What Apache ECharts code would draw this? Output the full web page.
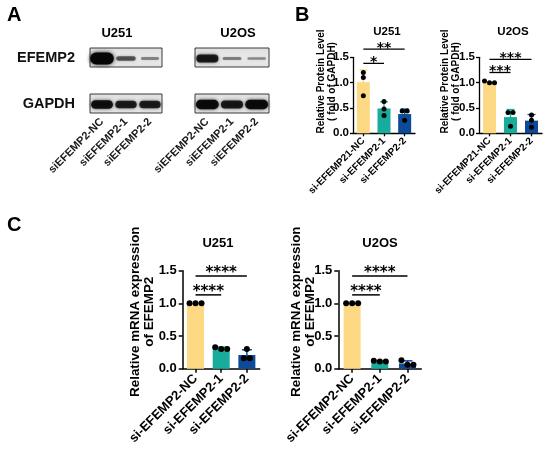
<!DOCTYPE html>
<html>
<head>
<meta charset="utf-8">
<script src="https://cdn.jsdelivr.net/npm/echarts@6/dist/echarts.min.js"></script>
<style>
html, body { margin: 0; padding: 0; background: #fff; }
#main { width: 550px; height: 450px; }
</style>
</head>
<body>
<div id="main"></div>
<script>
// ---- data ----
var laneLabels = ['siEFEMP2-NC', 'siEFEMP2-1', 'siEFEMP2-2'];
// relative band strength per lane (0..1)
var bandU251EFEMP2 = [1.0, 0.45, 0.25];
var bandU251GAPDH = [0.78, 0.7, 0.7];
var bandU2OSEFEMP2 = [0.72, 0.28, 0.24];
var bandU2OSGAPDH = [0.82, 0.72, 0.82];

var groupsB = ['si-EFEMP21-NC', 'si-EFEMP2-1', 'si-EFEMP2-2'];
var groupsC = ['si-EFEMP2-NC', 'si-EFEMP2-1', 'si-EFEMP2-2'];
var yTicks = [0, 0.5, 1.0, 1.5];

var protU251Mean = [1.01, 0.49, 0.38];
var protU251SD = [0.24, 0.13, 0.10];
var protU251Points = [[1.20, 1.10, 0.74], [0.63, 0.48, 0.35], [0.44, 0.44, 0.26]];
var protU251Sig = [[0, 1, 1.38], [0, 2, 1.66]];
var protU251SigText = ['*', '**'];

var protU2OSMean = [1.0, 0.32, 0.25];
var protU2OSSD = [0.02, 0.15, 0.12];
var protU2OSPoints = [[1.0, 1.03, 1.0], [0.41, 0.41, 0.14], [0.36, 0.26, 0.12]];
var protU2OSSig = [[0, 1, 1.20], [0, 2, 1.46]];
var protU2OSSigText = ['***', '***'];

var mrnaU251Mean = [1.0, 0.31, 0.21];
var mrnaU251SD = [0.0, 0.02, 0.08];
var mrnaU251Points = [[1.0, 1.0, 1.0], [0.33, 0.30, 0.30], [0.30, 0.16, 0.16]];
var mrnaU251Sig = [[0, 1, 1.13], [0, 2, 1.42]];
var mrnaU251SigText = ['****', '****'];

var mrnaU2OSMean = [1.0, 0.11, 0.08];
var mrnaU2OSSD = [0.0, 0.01, 0.04];
var mrnaU2OSPoints = [[1.0, 1.0, 1.0], [0.11, 0.12, 0.11], [0.13, 0.06, 0.06]];
var mrnaU2OSSig = [[0, 1, 1.13], [0, 2, 1.42]];
var mrnaU2OSSigText = ['****', '****'];

// ---- styling ----
var FONT = 'Liberation Sans, Arial, sans-serif';
var STAR_FONT = 'DejaVu Sans, sans-serif';
var barColors = ['#FED983', '#17AC9B', '#0D4A97'];

var grids = [], xAxes = [], yAxes = [], series = [];

function txt(text, x, y, size, opts) {
    opts = opts || {};
    var align = opts.align || 'center';
    return {
        type: 'text', x: x, y: y, rotation: opts.rotation || 0,
        scaleX: opts.scaleX || 1, z: 10,
        style: {
            text: text, fill: '#000', font: 'bold ' + size + 'px ' + FONT,
            lineHeight: opts.lineHeight, align: align, textAlign: align,
            verticalAlign: 'middle', textVerticalAlign: 'middle'
        }
    };
}

function addBlot(rect, rowName, lanes, strength, showRow, showLanes) {
    var gi = grids.length;
    grids.push({
        left: rect[0], top: rect[1], width: rect[2], height: rect[3],
        show: true, borderColor: '#3a3a3a', borderWidth: 1,
        backgroundColor: {
            type: 'linear', x: 0, y: 0, x2: 0, y2: 1,
            colorStops: [{ offset: 0, color: '#dedede' }, { offset: 0.5, color: '#ebebeb' }, { offset: 1, color: '#e2e2e2' }]
        }
    });
    xAxes.push({
        gridIndex: gi, type: 'category', data: lanes,
        axisLine: { show: false }, axisTick: { show: false }, splitLine: { show: false },
        axisLabel: {
            show: showLanes, rotate: 45, interval: 0, margin: 7,
            fontSize: 11, fontWeight: 'bold', color: '#1a1a1a', fontFamily: FONT
        }
    });
    yAxes.push({
        gridIndex: gi, type: 'category', data: [rowName],
        axisLine: { show: false }, axisTick: { show: false }, splitLine: { show: false },
        axisLabel: {
            show: showRow, margin: 15,
            fontSize: 14.5, fontWeight: 'bold', color: '#111', fontFamily: FONT
        }
    });
    series.push({
        type: 'custom', xAxisIndex: gi, yAxisIndex: gi, encode: { x: 0, y: 1 }, silent: true,
        data: strength.map(function (v, i) { return [i, 0, v]; }),
        renderItem: function (params, api) {
            var c = api.coord([api.value(0), api.value(1)]);
            var lane = api.size([1, 0])[0];
            var s = api.value(2);
            var w = lane * (0.68 + 0.3 * s);
            var h = 1.5 + 10.5 * Math.pow(s, 1.5);
            var a = Math.min(1, 0.15 + 0.95 * s);
            return {
                type: 'rect',
                shape: { x: c[0] - w / 2, y: c[1] - h / 2 + 1, width: w, height: h, r: h / 2 },
                style: { fill: 'rgba(5,5,5,' + a + ')', shadowBlur: 2 + 2 * s, shadowColor: 'rgba(0,0,0,' + (a * 0.9) + ')' }
            };
        }
    });
}

function addBars(rect, cats, means, sds, points, sig, sigText, o) {
    var gi = grids.length;
    var axisStyle = { color: '#000', width: o.lw };
    grids.push({ left: rect[0], top: rect[1], width: rect[2], height: rect[3] });
    xAxes.push({
        gridIndex: gi, type: 'category', data: cats,
        axisLine: { show: true, lineStyle: axisStyle },
        axisTick: { show: true, alignWithLabel: true, length: o.tick, lineStyle: axisStyle },
        splitLine: { show: false },
        axisLabel: {
            rotate: 45, interval: 0, margin: o.xm,
            fontSize: o.xfs, fontWeight: 'bold', color: '#000', fontFamily: FONT
        }
    });
    yAxes.push({
        gridIndex: gi, type: 'value', min: yTicks[0], max: yTicks[yTicks.length - 1], interval: yTicks[1] - yTicks[0],
        axisLine: { show: true, lineStyle: axisStyle },
        axisTick: { show: true, length: o.tick, lineStyle: axisStyle },
        splitLine: { show: false },
        axisLabel: {
            margin: o.ym, fontSize: o.yfs, fontWeight: 'bold', color: '#000', fontFamily: FONT,
            formatter: function (v) { return v.toFixed(1); }
        }
    });
    series.push({
        type: 'bar', xAxisIndex: gi, yAxisIndex: gi, barWidth: o.bw, silent: true, z: 2,
        data: means.map(function (v, i) { return { value: v, itemStyle: { color: barColors[i] } }; })
    });
    // error bars (mean +/- SD)
    series.push({
        type: 'custom', xAxisIndex: gi, yAxisIndex: gi, encode: { x: 0, y: 1 }, silent: true, z: 3,
        data: means.map(function (v, i) { return [i, v, sds[i]]; }),
        renderItem: function (params, api) {
            var i = api.value(0), m = api.value(1), s = api.value(2);
            var top = api.coord([i, m + s]), bot = api.coord([i, Math.max(0, m - s)]);
            var st = { stroke: barColors[i], lineWidth: o.lw };
            return {
                type: 'group', children: [
                    { type: 'line', shape: { x1: top[0], y1: top[1], x2: bot[0], y2: bot[1] }, style: st },
                    { type: 'line', shape: { x1: top[0] - o.cap, y1: top[1], x2: top[0] + o.cap, y2: top[1] }, style: st }
                ]
            };
        }
    });
    // individual replicates, spread sideways where they overlap
    var flat = [];
    points.forEach(function (g, ci) { g.forEach(function (v, k) { flat.push([ci, v, k]); }); });
    series.push({
        type: 'custom', xAxisIndex: gi, yAxisIndex: gi, encode: { x: 0, y: 1 }, silent: true, z: 4,
        data: flat,
        renderItem: function (params, api) {
            var ci = api.value(0), v = api.value(1), k = api.value(2);
            var list = points[ci];
            var ys = list.map(function (p) { return api.coord([ci, p])[1]; });
            var order = ys.map(function (y, j) { return j; }).sort(function (a, b) { return ys[a] - ys[b]; });
            var clusters = [], cur = [order[0]];
            for (var j = 1; j < order.length; j++) {
                if (ys[order[j]] - ys[cur[cur.length - 1]] < o.dot * 0.8) cur.push(order[j]);
                else { clusters.push(cur); cur = [order[j]]; }
            }
            clusters.push(cur);
            var off = 0;
            clusters.forEach(function (cl) {
                var pos = cl.indexOf(k);
                if (pos >= 0) off = (pos - (cl.length - 1) / 2) * o.dot;
            });
            var c = api.coord([ci, v]);
            return { type: 'circle', shape: { cx: c[0] + off, cy: c[1], r: o.dot / 2 }, style: { fill: '#000' } };
        }
    });
    // significance brackets
    series.push({
        type: 'custom', xAxisIndex: gi, yAxisIndex: gi, encode: { x: [0, 1], y: 2 }, silent: true, clip: false, z: 5,
        data: sig,
        renderItem: function (params, api) {
            var p1 = api.coord([api.value(0), api.value(2)]);
            var p2 = api.coord([api.value(1), api.value(2)]);
            return {
                type: 'group', children: [
                    { type: 'line', shape: { x1: p1[0], y1: p1[1], x2: p2[0], y2: p2[1] }, style: { stroke: '#000', lineWidth: o.lw } },
                    {
                        type: 'text', x: (p1[0] + p2[0]) / 2, y: p1[1] - o.starGap,
                        style: {
                            text: sigText[params.dataIndex], fill: '#000', font: 'bold ' + o.sfs + 'px ' + STAR_FONT,
                            align: 'center', textAlign: 'center', verticalAlign: 'middle', textVerticalAlign: 'middle'
                        }
                    }
                ]
            };
        }
    });
}

// panel A: blots
addBlot([90, 48, 72, 19], 'EFEMP2', laneLabels, bandU251EFEMP2, true, false);
addBlot([90, 94, 72, 19], 'GAPDH', laneLabels, bandU251GAPDH, true, true);
addBlot([195, 48, 74, 19], 'EFEMP2', laneLabels, bandU2OSEFEMP2, false, false);
addBlot([195, 94, 74, 19], 'GAPDH', laneLabels, bandU2OSGAPDH, false, true);

// panel B: protein
var optB = { lw: 1.3, tick: 3, xm: 6, ym: 4, xfs: 10, yfs: 11.5, bw: 13, cap: 4, dot: 5, sfs: 14, starGap: 1 };
addBars([353, 57.3, 62, 76], groupsB, protU251Mean, protU251SD, protU251Points, protU251Sig, protU251SigText, optB);
addBars([479, 57.3, 63, 76], groupsB, protU2OSMean, protU2OSSD, protU2OSPoints, protU2OSSig, protU2OSSigText, optB);

// panel C: mRNA
var optC = { lw: 1.5, tick: 4, xm: 8, ym: 6, xfs: 13, yfs: 13, bw: 17, cap: 5, dot: 6, sfs: 15, starGap: 3 };
addBars([182.7, 270.7, 77, 98], groupsC, mrnaU251Mean, mrnaU251SD, mrnaU251Points, mrnaU251Sig, mrnaU251SigText, optC);
addBars([338.3, 270.7, 83, 98], groupsC, mrnaU2OSMean, mrnaU2OSSD, mrnaU2OSPoints, mrnaU2OSSig, mrnaU2OSSigText, optC);

var graphics = [
    txt('A', 7, 15, 20, { align: 'left' }),
    txt('B', 295, 15, 20, { align: 'left' }),
    txt('C', 7, 225, 20, { align: 'left' }),
    txt('U251', 117, 33, 13),
    txt('U2OS', 238, 33, 13),
    txt('U251', 387, 32, 11.5),
    txt('U2OS', 513, 32, 11.5),
    txt('U251', 218, 243, 13),
    txt('U2OS', 380, 243, 13),
    txt('Relative Protein Level\n( fold of GAPDH)', 326.5, 81.5, 11.5, { rotation: Math.PI / 2, lineHeight: 11.5, scaleX: 0.87 }),
    txt('Relative Protein Level\n( fold of GAPDH)', 450.5, 81.5, 11.5, { rotation: Math.PI / 2, lineHeight: 11.5, scaleX: 0.87 }),
    txt('Relative mRNA expression\nof EFEMP2', 142.3, 311.7, 13.4, { rotation: Math.PI / 2, lineHeight: 14 }),
    txt('Relative mRNA expression\nof EFEMP2', 303.7, 311.7, 13.4, { rotation: Math.PI / 2, lineHeight: 14 })
];

var chart = echarts.init(document.getElementById('main'));
chart.setOption({
    backgroundColor: '#fff',
    animation: false,
    grid: grids,
    xAxis: xAxes,
    yAxis: yAxes,
    series: series,
    graphic: graphics
});
</script>
</body>
</html>
